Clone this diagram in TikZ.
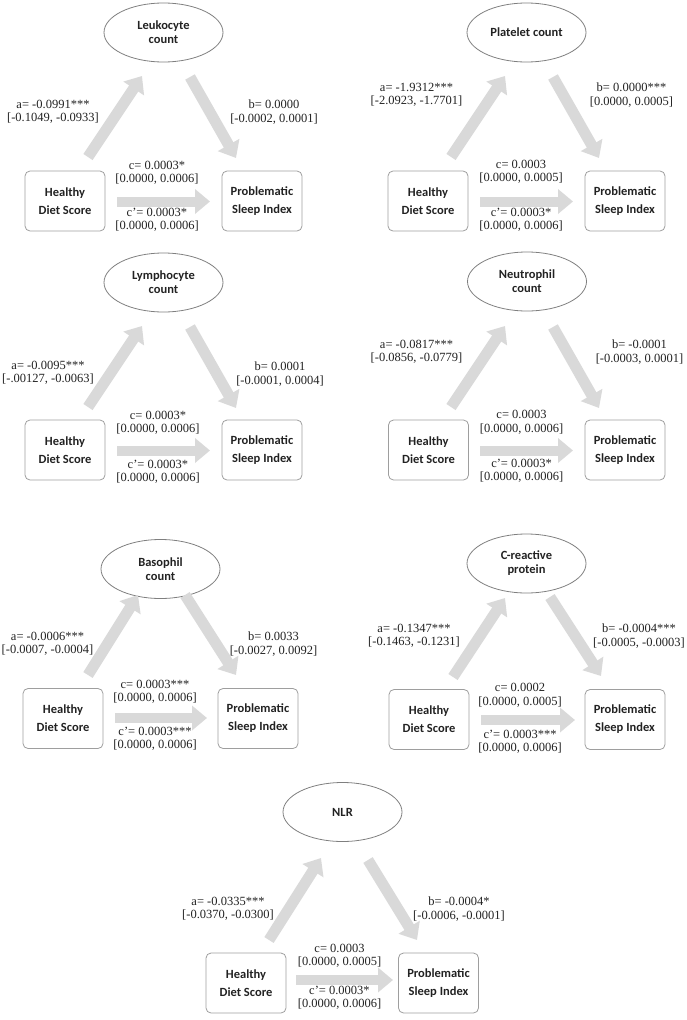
\documentclass[tikz,border=0pt]{standalone}
\usepackage{fontspec}
\setmainfont{Liberation Serif}
\newfontfamily\calfont{Carlito}
\usetikzlibrary{arrows.meta,shapes.geometric}
\definecolor{arr}{HTML}{D9D9D9}
\definecolor{bord}{HTML}{9E9E9E}
\definecolor{ebord}{HTML}{7F7F7F}
\definecolor{txt}{HTML}{222222}
\begin{document}
\begin{tikzpicture}[x=1pt,y=-1pt,
 med/.style={ellipse,draw=ebord,line width=0.8pt,minimum width=119pt,minimum height=59pt,inner sep=0pt,align=center,font=\calfont\bfseries\fontsize{12.5}{14}\selectfont,text=txt},
 var/.style={rectangle,rounded corners=5pt,draw=bord,line width=0.8pt,minimum width=80pt,minimum height=60pt,inner sep=0pt,align=center,font=\calfont\bfseries\fontsize{12.5}{18}\selectfont,text=txt},
 lab/.style={align=center,font=\fontsize{12.5}{13.5}\selectfont,text=txt,inner sep=0pt},
 big/.style={draw=arr,line width=11pt,-{Triangle[length=15pt,width=24pt]}},
 hbig/.style={draw=arr,line width=10pt,-{Triangle[length=15pt,width=24pt]}},
]
\useasboundingbox (0,0) rectangle (686,1020);

% ---------- Panel 1 ----------
\node[med] (e1) at (163.5,32.5) {Leukocyte\\count};
\node[var] (h1) at (65,201) {Healthy\\Diet Score};
\node[var] (p1) at (262,201) {Problematic\\Sleep Index};
\coordinate (a1s) at (88,157); \coordinate (a1e) at (142,76);
\coordinate (b1s) at (190,77); \coordinate (b1e) at (236,158);
\coordinate (c1s) at (117,201.5); \coordinate (c1e) at (210,201.5);
\draw[big] (a1s) -- (a1e);
\draw[big] (b1s) -- (b1e);
\draw[hbig] (c1s) -- (c1e);
\node[lab] (la1) at (53,112) {a= -0.0991***\\{}[-0.1049, -0.0933]};
\node[lab] (lb1) at (274,112) {b= 0.0000\\{}[-0.0002, 0.0001]};
\node[lab] (lc1) at (157,173) {c= 0.0003*\\{}[0.0000, 0.0006]};
\node[lab] (ld1) at (157,220) {c’= 0.0003*\\{}[0.0000, 0.0006]};

% ---------- Panel 2 ----------
\node[med] (e2) at (526.5,32.5) {Platelet count};
\node[var] (h2) at (428,201) {Healthy\\Diet Score};
\node[var] (p2) at (625,201) {Problematic\\Sleep Index};
\coordinate (a2s) at (451,157); \coordinate (a2e) at (505,76);
\coordinate (b2s) at (553,77); \coordinate (b2e) at (599,158);
\coordinate (c2s) at (480,201.5); \coordinate (c2e) at (573,201.5);
\draw[big] (a2s) -- (a2e);
\draw[big] (b2s) -- (b2e);
\draw[hbig] (c2s) -- (c2e);
\node[lab] (la2) at (416.5,95) {a= -1.9312***\\{}[-2.0923, -1.7701]};
\node[lab] (lb2) at (631.5,95) {b= 0.0000***\\{}[0.0000, 0.0005]};
\node[lab] (lc2) at (521,172) {c= 0.0003\\{}[0.0000, 0.0005]};
\node[lab] (ld2) at (521,220) {c’= 0.0003*\\{}[0.0000, 0.0006]};

% ---------- Panel 3 ----------
\node[med] (e3) at (163.5,282.5) {Lymphocyte\\count};
\node[var] (h3) at (65,450) {Healthy\\Diet Score};
\node[var] (p3) at (262,450) {Problematic\\Sleep Index};
\coordinate (a3s) at (88,407); \coordinate (a3e) at (142,326);
\coordinate (b3s) at (190,327); \coordinate (b3e) at (236,408);
\coordinate (c3s) at (117,450.5); \coordinate (c3e) at (210,450.5);
\draw[big] (a3s) -- (a3e);
\draw[big] (b3s) -- (b3e);
\draw[hbig] (c3s) -- (c3e);
\node[lab] (la3) at (48,373) {a= -0.0095***\\{}[-.00127, -0.0063]};
\node[lab] (lb3) at (280,374) {b= 0.0001\\{}[-0.0001, 0.0004]};
\node[lab] (lc3) at (158,423) {c= 0.0003*\\{}[0.0000, 0.0006]};
\node[lab] (ld3) at (158,472) {c’= 0.0003*\\{}[0.0000, 0.0006]};

% ---------- Panel 4 ----------
\node[med] (e4) at (527,281.5) {Neutrophil\\count};
\node[var] (h4) at (428.5,450) {Healthy\\Diet Score};
\node[var] (p4) at (625,450) {Problematic\\Sleep Index};
\coordinate (a4s) at (451,407); \coordinate (a4e) at (505,326);
\coordinate (b4s) at (553,327); \coordinate (b4e) at (599,408);
\coordinate (c4s) at (480,450.5); \coordinate (c4e) at (573,450.5);
\draw[big] (a4s) -- (a4e);
\draw[big] (b4s) -- (b4e);
\draw[hbig] (c4s) -- (c4e);
\node[lab] (la4) at (416.5,352) {a= -0.0817***\\{}[-0.0856, -0.0779]};
\node[lab] (lb4) at (639.5,352) {b= -0.0001\\{}[-0.0003, 0.0001]};
\node[lab] (lc4) at (521.5,422.5) {c= 0.0003\\{}[0.0000, 0.0006]};
\node[lab] (ld4) at (521.5,471) {c’= 0.0003*\\{}[0.0000, 0.0006]};

% ---------- Panel 5 ----------
\node[med] (e5) at (160.5,569) {Basophil\\count};
\node[var] (h5) at (63,718.5) {Healthy\\Diet Score};
\node[var] (p5) at (258,718.5) {Problematic\\Sleep Index};
\coordinate (a5s) at (88,675); \coordinate (a5e) at (138,595);
\coordinate (b5s) at (185,595); \coordinate (b5e) at (236,675);
\coordinate (c5s) at (115,718); \coordinate (c5e) at (207,718);
\draw[big] (a5s) -- (a5e);
\draw[big] (b5s) -- (b5e);
\draw[hbig] (c5s) -- (c5e);
\node[lab] (la5) at (47.5,644) {a= -0.0006***\\{}[-0.0007, -0.0004]};
\node[lab] (lb5) at (273.5,644) {b= 0.0033\\{}[-0.0027, 0.0092]};
\node[lab] (lc5) at (155,692) {c= 0.0003***\\{}[0.0000, 0.0006]};
\node[lab] (ld5) at (155,739) {c’= 0.0003***\\{}[0.0000, 0.0006]};

% ---------- Panel 6 ----------
\node[med] (e6) at (526.5,563.5) {C-reactive\\protein};
\node[var] (h6) at (429,719.5) {Healthy\\Diet Score};
\node[var] (p6) at (625,719.5) {Problematic\\Sleep Index};
\coordinate (a6s) at (453,677); \coordinate (a6e) at (505,598);
\coordinate (b6s) at (550,597); \coordinate (b6e) at (601,676);
\coordinate (c6s) at (481,720); \coordinate (c6e) at (575,720);
\draw[big] (a6s) -- (a6e);
\draw[big] (b6s) -- (b6e);
\draw[hbig] (c6s) -- (c6e);
\node[lab] (la6) at (414,636) {a= -0.1347***\\{}[-0.1463, -0.1231]};
\node[lab] (lb6) at (639,636) {b= -0.0004***\\{}[-0.0005, -0.0003]};
\node[lab] (lc6) at (520,695.5) {c= 0.0002\\{}[0.0000, 0.0005]};
\node[lab] (ld6) at (520,742) {c’= 0.0003***\\{}[0.0000, 0.0006]};

% ---------- Panel 7 ----------
\node[med] (e7) at (342.5,812) {NLR};
\node[var] (h7) at (246,983) {Healthy\\Diet Score};
\node[var] (p7) at (438.5,983) {Problematic\\Sleep Index};
\coordinate (a7s) at (269,940); \coordinate (a7e) at (321,858);
\coordinate (b7s) at (368,860); \coordinate (b7e) at (417,940);
\coordinate (c7s) at (296,980); \coordinate (c7e) at (393,980);
\draw[big] (a7s) -- (a7e);
\draw[big] (b7s) -- (b7e);
\draw[hbig] (c7s) -- (c7e);
\node[lab] (la7) at (228,909) {a= -0.0335***\\{}[-0.0370, -0.0300]};
\node[lab] (lb7) at (459,909) {b= -0.0004*\\{}[-0.0006, -0.0001]};
\node[lab] (lc7) at (339.5,956) {c= 0.0003\\{}[0.0000, 0.0005]};
\node[lab] (ld7) at (339.5,998) {c’= 0.0003*\\{}[0.0000, 0.0006]};
\end{tikzpicture}
\end{document}
